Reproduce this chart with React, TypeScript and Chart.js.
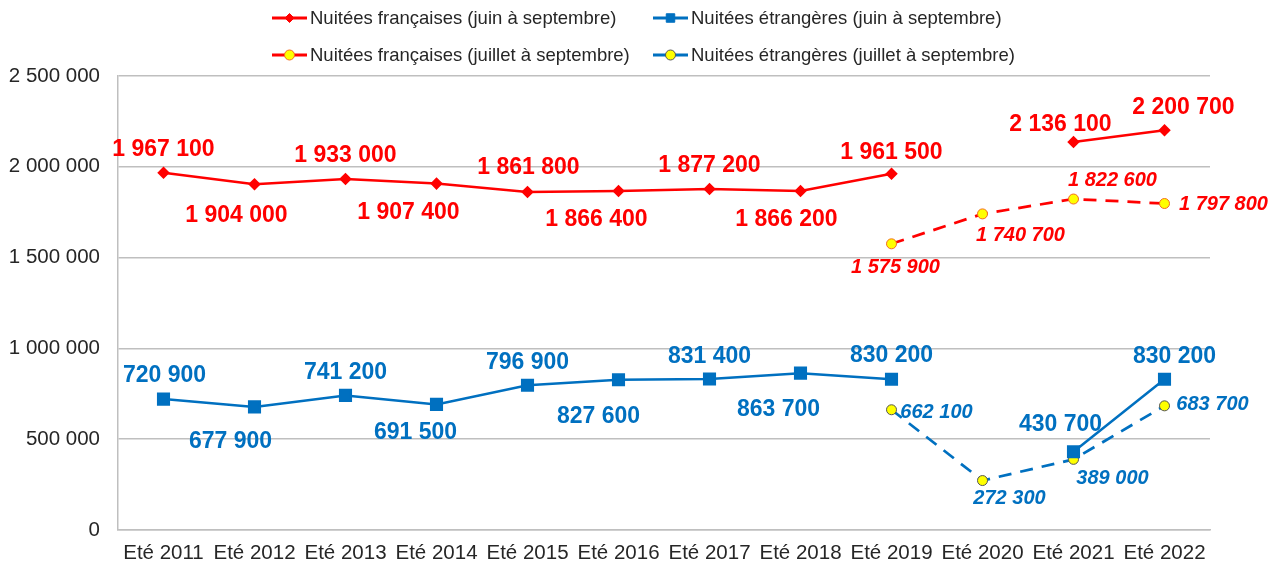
import React, { useEffect, useRef } from 'react';
import { Chart, registerables } from 'chart.js';

Chart.register(...registerables);

const categories = ['Eté 2011', 'Eté 2012', 'Eté 2013', 'Eté 2014', 'Eté 2015', 'Eté 2016', 'Eté 2017', 'Eté 2018', 'Eté 2019', 'Eté 2020', 'Eté 2021', 'Eté 2022'];
const frJuinSept = [1967100, 1904000, 1933000, 1907400, 1861800, 1866400, 1877200, 1866200, 1961500, null, 2136100, 2200700];
const etrJuinSept = [720900, 677900, 741200, 691500, 796900, 827600, 831400, 863700, 830200, null, 430700, 830200];
const frJuilSept = [null, null, null, null, null, null, null, null, 1575900, 1740700, 1822600, 1797800];
const etrJuilSept = [null, null, null, null, null, null, null, null, 662100, 272300, 389000, 683700];
const yTickValues = [0, 500000, 1000000, 1500000, 2000000, 2500000];

const seriesNames = [
  'Nuitées françaises (juin à septembre)',
  'Nuitées étrangères (juin à septembre)',
  'Nuitées françaises (juillet à septembre)',
  'Nuitées étrangères (juillet à septembre)',
];

const RED = '#FF0000';
const BLUE = '#0070C0';
const YELLOW = '#FFFF00';
const FONT = "'Liberation Sans', Arial, sans-serif";

// label placement offsets (pixels relative to each point), styling only
const labelOffsets: (number[] | null)[][] = [
  [[0, -23], [-18, 31], [0, -23], [-28, 29], [1, -24], [-22, 29], [0, -23], [-14, 29], [0, -21], null, [-13, -17], [19, -23]],
  [[1, -23], [-24, 35], [0, -23], [-21, 28], [0, -23], [-20, 37], [0, -22], [-22, 37], [0, -24], null, [-13, -27], [10, -23]],
  [null, null, null, null, null, null, null, null, [4, 24], [38, 22], [39, -19], [59, 1]],
  [null, null, null, null, null, null, null, null, [45, 3], [27, 18], [39, 19], [48, -1]],
];

const fmt = (v: number) => String(v).replace(/\B(?=(\d{3})+(?!\d))/g, ' ');

function drawMarker(ctx: CanvasRenderingContext2D, style: string, x: number, y: number, r: number, fill: string, stroke: string) {
  ctx.save();
  ctx.beginPath();
  if (style === 'rectRot') {
    ctx.moveTo(x, y - r);
    ctx.lineTo(x + r, y);
    ctx.lineTo(x, y + r);
    ctx.lineTo(x - r, y);
    ctx.closePath();
  } else if (style === 'rect') {
    const s = r * Math.SQRT1_2;
    ctx.rect(x - s, y - s, 2 * s, 2 * s);
  } else {
    ctx.arc(x, y, r, 0, Math.PI * 2);
  }
  ctx.fillStyle = fill;
  ctx.fill();
  ctx.lineWidth = 1;
  ctx.strokeStyle = stroke;
  ctx.stroke();
  ctx.restore();
}

const legendItems = [
  { x: 272, y: 18, color: RED, style: 'rectRot', r: 4.5, fill: RED, stroke: RED },
  { x: 653, y: 18, color: BLUE, style: 'rect', r: 6, fill: BLUE, stroke: BLUE },
  { x: 272, y: 55, color: RED, style: 'circle', r: 5, fill: YELLOW, stroke: '#F26B21' },
  { x: 653, y: 55, color: BLUE, style: 'circle', r: 5, fill: YELLOW, stroke: '#555555' },
];

const legendPlugin = {
  id: 'customLegend',
  afterDraw(chart: any) {
    const ctx = chart.ctx as CanvasRenderingContext2D;
    ctx.save();
    legendItems.forEach((it, i) => {
      ctx.beginPath();
      ctx.strokeStyle = it.color;
      ctx.lineWidth = 3;
      ctx.moveTo(it.x, it.y);
      ctx.lineTo(it.x + 35, it.y);
      ctx.stroke();
      drawMarker(ctx, it.style, it.x + 17.5, it.y, it.r, it.fill, it.stroke);
      ctx.fillStyle = '#262626';
      ctx.font = `18.5px ${FONT}`;
      ctx.textAlign = 'left';
      ctx.textBaseline = 'middle';
      ctx.fillText(seriesNames[i], it.x + 38, it.y + 1);
    });
    ctx.restore();
  },
};

const labelPlugin = {
  id: 'pointLabels',
  afterDatasetsDraw(chart: any) {
    const ctx = chart.ctx as CanvasRenderingContext2D;
    ctx.save();
    chart.data.datasets.forEach((ds: any, di: number) => {
      const meta = chart.getDatasetMeta(di);
      meta.data.forEach((pt: any, i: number) => {
        const v = ds.data[i];
        const off = labelOffsets[di][i];
        if (v == null || !off) return;
        ctx.fillStyle = di % 2 === 0 ? RED : BLUE;
        ctx.font = di < 2 ? `bold 23px ${FONT}` : `italic bold 20px ${FONT}`;
        ctx.textAlign = 'center';
        ctx.textBaseline = 'middle';
        ctx.fillText(fmt(v), pt.x + off[0], pt.y + off[1]);
      });
    });
    ctx.restore();
  },
};

export default function App() {
  const ref = useRef<HTMLCanvasElement | null>(null);
  useEffect(() => {
    document.body.style.margin = '0';
    if (!ref.current) return;
    const chart = new Chart(ref.current, {
      type: 'line',
      data: {
        labels: categories,
        datasets: [
          {
            label: seriesNames[0], data: frJuinSept, borderColor: RED, backgroundColor: RED, borderWidth: 2.5,
            pointStyle: 'rectRot', pointRadius: 4.5, pointBackgroundColor: RED, pointBorderColor: RED, spanGaps: false,
          },
          {
            label: seriesNames[1], data: etrJuinSept, borderColor: BLUE, backgroundColor: BLUE, borderWidth: 2.5,
            pointStyle: 'rect', pointRadius: 7.5, pointBackgroundColor: BLUE, pointBorderColor: BLUE, spanGaps: false,
          },
          {
            label: seriesNames[2], data: frJuilSept, borderColor: RED, backgroundColor: YELLOW, borderWidth: 2.75,
            borderDash: [13, 9], pointStyle: 'circle', pointRadius: 5, pointBorderWidth: 1,
            pointBackgroundColor: YELLOW, pointBorderColor: '#F26B21',
          },
          {
            label: seriesNames[3], data: etrJuilSept, borderColor: BLUE, backgroundColor: YELLOW, borderWidth: 2.75,
            borderDash: [13, 9], pointStyle: 'circle', pointRadius: 5, pointBorderWidth: 1,
            pointBackgroundColor: YELLOW, pointBorderColor: '#555555',
          },
        ] as any,
      },
      options: {
        animation: false,
        responsive: false,
        layout: { padding: { top: 76, right: 59, left: 0, bottom: 0 } },
        plugins: { legend: { display: false }, tooltip: { enabled: false } },
        scales: {
          x: {
            offset: true,
            grid: { display: false, drawTicks: false },
            border: { color: '#BFBFBF', width: 1.5 },
            ticks: { color: '#262626', font: { size: 20.5, family: FONT }, padding: 11, maxRotation: 0, autoSkip: false },
            afterFit: (s: any) => { s.height = 34; },
          },
          y: {
            min: 0,
            max: 2500000,
            afterBuildTicks: (s: any) => { s.ticks = yTickValues.map((v) => ({ value: v })); },
            grid: { color: '#BFBFBF', lineWidth: 1.5, drawTicks: false },
            border: { color: '#BFBFBF', width: 1.5 },
            ticks: { color: '#262626', font: { size: 20.5, family: FONT }, padding: 18, callback: (v: any) => fmt(Number(v)) },
            afterFit: (s: any) => { s.width = 118; },
          },
        },
      },
      plugins: [legendPlugin, labelPlugin],
    });
    return () => chart.destroy();
  }, []);
  return <canvas ref={ref} width={1269} height={564} style={{ display: 'block' }} />;
}
